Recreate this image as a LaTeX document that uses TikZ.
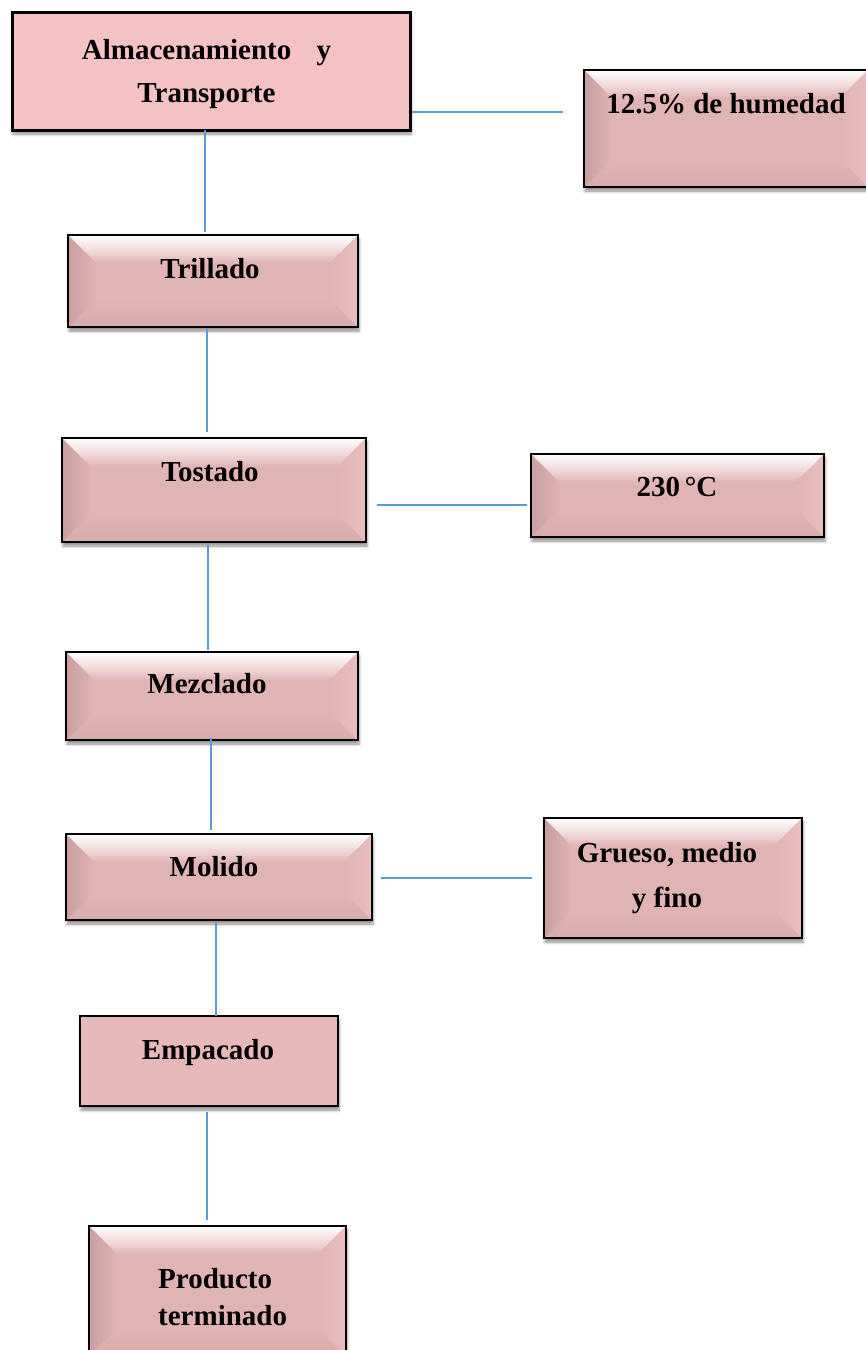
\documentclass[tikz,border=0pt]{standalone}
\usepackage{fontspec}
\setmainfont{Liberation Serif}
\usetikzlibrary{calc,shadows.blur}
\definecolor{almfill}{RGB}{244,194,194}
\definecolor{bevbase}{RGB}{225,180,180}
\definecolor{bevdark}{RGB}{201,158,158}
\definecolor{bevlight}{RGB}{234,190,190}
\definecolor{bevlow}{RGB}{216,172,172}
\definecolor{empfill}{RGB}{230,184,184}
\definecolor{connblue}{RGB}{91,155,213}
\newcommand{\bevd}{28pt}
\tikzset{
  boxbase/.style={rectangle, inner sep=0pt, outer sep=0pt,
    blur shadow={shadow xshift=1pt, shadow yshift=-4pt, shadow blur radius=3pt, shadow opacity=45}},
  flatbox/.style={boxbase, fill=almfill, draw=black, line width=3pt},
  empbox/.style={boxbase, fill=empfill, draw=black, line width=1.5pt},
  bevelbox/.style={boxbase, fill=bevbase, draw=black, line width=1.3pt,
    path picture={
      \path (path picture bounding box.north west) coordinate (pNW)
            (path picture bounding box.north east) coordinate (pNE)
            (path picture bounding box.south west) coordinate (pSW)
            (path picture bounding box.south east) coordinate (pSE);
      \shade[top color=white, bottom color=bevbase, middle color=bevbase!45!white] (pNW) -- (pNE) -- ($(pNE)+(-\bevd,-\bevd)$) -- ($(pNW)+(\bevd,-\bevd)$) -- cycle;
      \shade[top color=bevbase, bottom color=bevlow] (pSW) -- (pSE) -- ($(pSE)+(-\bevd,\bevd)$) -- ($(pSW)+(\bevd,\bevd)$) -- cycle;
      \shade[left color=bevdark, right color=bevbase] (pNW) -- ($(pNW)+(\bevd,-\bevd)$) -- ($(pSW)+(\bevd,\bevd)$) -- (pSW) -- cycle;
      \shade[left color=bevbase, right color=bevlight] (pNE) -- ($(pNE)+(-\bevd,-\bevd)$) -- ($(pSE)+(-\bevd,\bevd)$) -- (pSE) -- cycle;
    }},
  label/.style={inner sep=0pt, font=\bfseries\fontsize{29}{45}\selectfont, text=black},
  conn/.style={draw=connblue, line width=1.3pt}
}
\begin{document}
\begin{tikzpicture}[x=1pt,y=-1pt]
\useasboundingbox (0,0) rectangle (866,1350);
% boxes
\node[flatbox, minimum width=398pt, minimum height=118pt] (alm) at (211,71) {};
\node[bevelbox, minimum width=284pt, minimum height=117pt] (hum) at (726,128.5) {};
\node[bevelbox, minimum width=290pt, minimum height=92pt] (tri) at (213,281) {};
\node[bevelbox, minimum width=304pt, minimum height=104pt] (tos) at (214,490) {};
\node[bevelbox, minimum width=293pt, minimum height=83pt] (tem) at (677.5,495.5) {};
\node[bevelbox, minimum width=292pt, minimum height=88pt] (mez) at (212,696) {};
\node[bevelbox, minimum width=306pt, minimum height=86pt] (mol) at (219,877) {};
\node[bevelbox, minimum width=258pt, minimum height=120pt] (gru) at (673,878) {};
\node[empbox, minimum width=258pt, minimum height=90pt] (emp) at (209,1061) {};
\node[bevelbox, minimum width=257pt, minimum height=130pt] (pro) at (217.5,1291) {};
% texts
\node[label, anchor=base, font=\bfseries\fontsize{29}{43}\selectfont] (almt) at (206.5,59) {\begin{tabular}[t]{@{}c@{}}Almacenamiento\hspace{18pt} y\\Transporte\end{tabular}};
\node[label, anchor=base] (humt) at (726,113) {12.5\% de humedad};
\node[label, anchor=base] (trit) at (210,278) {Trillado};
\node[label, anchor=base] (tost) at (210,481) {Tostado};
\node[label, anchor=base] (temt) at (677,496) {230\,°C};
\node[label, anchor=base] (mezt) at (207,693) {Mezclado};
\node[label, anchor=base] (molt) at (214,876) {Molido};
\node[label, anchor=base, font=\bfseries\fontsize{29}{45}\selectfont] (grut) at (667,862) {\begin{tabular}[t]{@{}c@{}}Grueso, medio\\y fino\end{tabular}};
\node[label, anchor=base] (empt) at (208,1059) {Empacado};
\node[label, anchor=base west, font=\bfseries\fontsize{29}{37}\selectfont] (prot) at (158,1288) {\begin{tabular}[t]{@{}l@{}}Producto\\terminado\end{tabular}};
% connectors
\draw[conn] ([xshift=-6pt]alm.south) -- ([xshift=-8pt,yshift=3pt]tri.north);
\draw[conn] ([xshift=2pt,yshift=-41pt]alm.east) -- ([xshift=-21pt,yshift=16.5pt]hum.west);
\draw[conn] ([xshift=-6pt,yshift=-1pt]tri.south) -- ([xshift=-7pt,yshift=6pt]tos.north);
\draw[conn] ([xshift=11pt,yshift=-15pt]tos.east) -- ([xshift=-4pt,yshift=-9.5pt]tem.west);
\draw[conn] ([xshift=-6pt,yshift=-3pt]tos.south) -- ([xshift=-4pt,yshift=2pt]mez.north);
\draw[conn] ([xshift=-1pt,yshift=2pt]mez.south) -- ([xshift=-8pt,yshift=4pt]mol.north);
\draw[conn] ([xshift=9pt,yshift=-1pt]mol.east) -- ([xshift=-12pt]gru.west);
\draw[conn] ([xshift=-3pt,yshift=-2pt]mol.south) -- ([xshift=7pt]emp.north);
\draw[conn] ([xshift=-2pt,yshift=-6pt]emp.south) -- ([xshift=-10.5pt,yshift=6pt]pro.north);
\end{tikzpicture}
\end{document}
